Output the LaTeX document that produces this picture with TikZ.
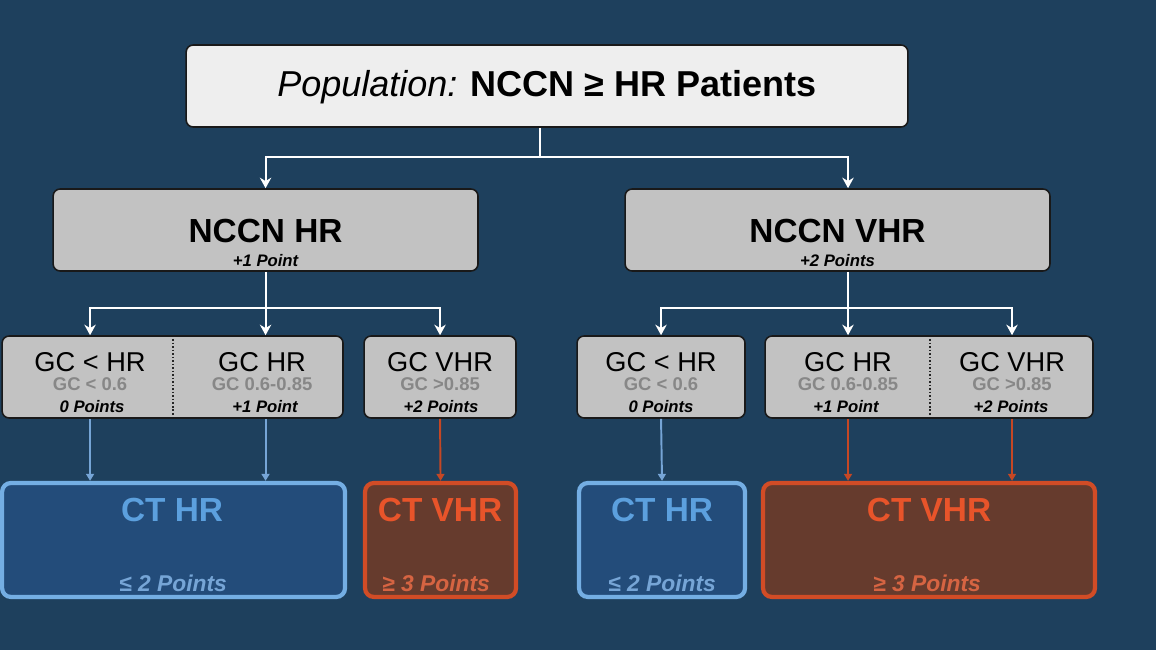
\documentclass[tikz,border=0pt]{standalone}
\usepackage{fontspec}
\setmainfont{Liberation Sans}
\usetikzlibrary{arrows.meta}

\definecolor{bgnavy}{RGB}{30,64,93}
\definecolor{boxlight}{RGB}{238,238,238}
\definecolor{boxgray}{RGB}{194,194,194}
\definecolor{cutgray}{RGB}{135,135,135}
\definecolor{ctblue}{RGB}{92,160,222}
\definecolor{ctbluefill}{RGB}{35,76,122}
\definecolor{ctbluepts}{RGB}{118,165,214}
\definecolor{ctred}{RGB}{232,84,42}
\definecolor{ctredfill}{RGB}{102,59,45}
\definecolor{ctredpts}{RGB}{214,100,66}

\tikzset{
  topbox/.style={draw=black!90, fill=boxlight, rounded corners=4pt, line width=0.9pt,
    minimum width=14.44cm, minimum height=1.64cm},
  riskbox/.style={draw=black!90, fill=boxgray, rounded corners=4pt, line width=0.9pt,
    minimum height=1.64cm},
  ctbox/.style={rounded corners=5pt, line width=2.4pt, minimum height=2.28cm},
  bigtxt/.style={font=\bfseries\fontsize{19}{20}\selectfont},
  gctxt/.style={font=\fontsize{15.5}{17}\selectfont},
  cuttxt/.style={font=\bfseries\fontsize{10.5}{12}\selectfont, text=cutgray},
  ptstxt/.style={font=\bfseries\itshape\fontsize{9.5}{11}\selectfont},
  ctpts/.style={font=\bfseries\itshape\fontsize{13}{15}\selectfont},
  wire/.style={draw=white, line width=1.1pt},
  flow/.style={wire, -{Stealth[length=6pt,width=6.5pt]}},
  blueflow/.style={draw=ctbluepts, line width=1.1pt, -{Triangle[length=4pt,width=4.5pt]}},
  redflow/.style={draw=ctred!85!black, line width=1.1pt, -{Triangle[length=4pt,width=4.5pt]}},
  divider/.style={draw=black!85, densely dotted, line width=1pt}
}

\begin{document}
\begin{tikzpicture}[x=0.02cm,y=-0.02cm]
  % background
  \fill[bgnavy] (0,0) rectangle (1156,650);

  % population
  \node[topbox] (pop) at (547,86) {};
  \node[font=\fontsize{20.5}{22}\selectfont] (popT) at (547,87)
    {\textit{Population:} \textbf{NCCN ≥ HR Patients}};

  % NCCN groups
  \node[riskbox, minimum width=8.5cm] (hr) at (265.5,230) {};
  \node[bigtxt] (hrT) at (265.5,231) {NCCN HR};
  \node[ptstxt] (hrP) at (265.5,261) {+1 Point};
  \node[riskbox, minimum width=8.5cm] (vhr) at (837.5,230) {};
  \node[bigtxt] (vhrT) at (837.5,231) {NCCN VHR};
  \node[ptstxt] (vhrP) at (837.5,261) {+2 Points};

  % GC boxes, left side
  \node[riskbox, minimum width=6.82cm] (boxA) at (172.5,377) {};
  \draw[divider] (173,339) -- (173,415);
  \node[gctxt] (aLow) at (90,362) {GC < HR};
  \node[cuttxt] at (90,384) {GC < 0.6};
  \node[ptstxt] at (92,407) {0 Points};
  \node[gctxt] (aHR) at (262,362) {GC HR};
  \node[cuttxt] at (262,384) {GC 0.6-0.85};
  \node[ptstxt] at (265,407) {+1 Point};
  \node[riskbox, minimum width=3.04cm] (boxB) at (440,377) {};
  \node[gctxt] (bVHR) at (440,362) {GC VHR};
  \node[cuttxt] at (440,384) {GC >0.85};
  \node[ptstxt] at (441,407) {+2 Points};

  % GC boxes, right side
  \node[riskbox, minimum width=3.36cm] (boxC) at (661,377) {};
  \node[gctxt] (cLow) at (661,362) {GC < HR};
  \node[cuttxt] at (661,384) {GC < 0.6};
  \node[ptstxt] at (661,407) {0 Points};
  \node[riskbox, minimum width=6.56cm] (boxD) at (929,377) {};
  \draw[divider] (930,339) -- (930,415);
  \node[gctxt] (dHR) at (848,362) {GC HR};
  \node[cuttxt] at (848,384) {GC 0.6-0.85};
  \node[ptstxt] at (846,407) {+1 Point};
  \node[gctxt] (dVHR) at (1012,362) {GC VHR};
  \node[cuttxt] at (1012,384) {GC >0.85};
  \node[ptstxt] at (1011,407) {+2 Points};

  % CT result boxes
  \node[ctbox, draw=ctblue!85, fill=ctbluefill, minimum width=6.86cm] (ctA) at (173.5,540) {};
  \node[bigtxt, text=ctblue] at (172,510) {CT HR};
  \node[ctpts, text=ctbluepts] at (173,583) {≤ 2 Points};
  \node[ctbox, draw=ctred!90!black, fill=ctredfill, minimum width=3.02cm] (ctB) at (440.5,540) {};
  \node[bigtxt, text=ctred] at (440,510) {CT VHR};
  \node[ctpts, text=ctredpts] at (436,583) {≥ 3 Points};
  \node[ctbox, draw=ctblue!85, fill=ctbluefill, minimum width=3.32cm] (ctC) at (662,540) {};
  \node[bigtxt, text=ctblue] at (662,510) {CT HR};
  \node[ctpts, text=ctbluepts] at (662,583) {≤ 2 Points};
  \node[ctbox, draw=ctred!90!black, fill=ctredfill, minimum width=6.64cm] (ctD) at (929,540) {};
  \node[bigtxt, text=ctred] at (929,510) {CT VHR};
  \node[ctpts, text=ctredpts] at (927,583) {≥ 3 Points};

  % population -> NCCN groups
  \coordinate (split) at (540,157);
  \draw[wire] (pop.south -| split) -- (split);
  \draw[flow] (split) -| (hr.north);
  \draw[flow] (split) -| (vhr.north -| dHR);

  % NCCN HR -> GC
  \draw[wire] (hr.south) -- ++(0,36) coordinate (hrSplit);
  \draw[flow] (hrSplit) -| (boxA.north -| aLow);
  \draw[flow] (hrSplit) -- (boxA.north -| hrSplit);
  \draw[flow] (hrSplit) -| (boxB.north);

  % NCCN VHR -> GC
  \draw[wire] (vhr.south -| dHR) -- ++(0,36) coordinate (vhrSplit);
  \draw[flow] (vhrSplit) -| (boxC.north);
  \draw[flow] (vhrSplit) -- (boxD.north -| vhrSplit);
  \draw[flow] (vhrSplit) -| (boxD.north -| dVHR);

  % GC -> CT
  \draw[blueflow] (boxA.south -| aLow) -- (ctA.north -| aLow);
  \draw[blueflow] (boxA.south -| hrSplit) -- (ctA.north -| hrSplit);
  \draw[redflow] (boxB.south) -- (ctB.north);
  \draw[blueflow] (boxC.south) -- (ctC.north);
  \draw[redflow] (boxD.south -| vhrSplit) -- (ctD.north -| vhrSplit);
  \draw[redflow] (boxD.south -| dVHR) -- (ctD.north -| dVHR);
\end{tikzpicture}
\end{document}
